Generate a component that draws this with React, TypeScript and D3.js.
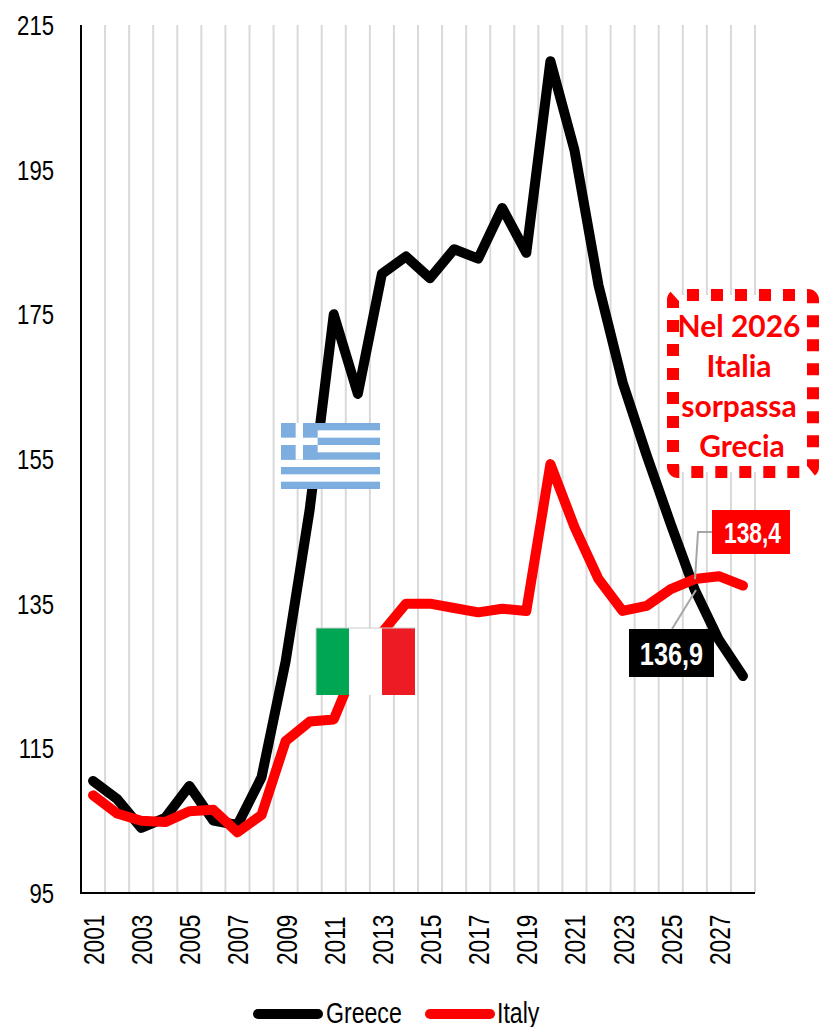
import React from 'react';
import * as d3 from 'd3';

const years = d3.range(2001, 2029).map(String);
const greece = [110.5, 108, 104, 105.4, 109.8, 105, 104.4, 111, 127, 148, 175, 164, 180.6, 183, 180, 184, 182.7, 189.7, 183.5, 210, 197.7, 179, 165.6, 155.5, 146, 136.9, 130, 125];
const italy = [108.5, 106, 105, 104.8, 106.3, 106.5, 103.4, 105.8, 116, 118.7, 119, 127, 131, 135, 135, 134.4, 133.8, 134.3, 134, 154.3, 145.6, 138.4, 134, 134.7, 137, 138.4, 138.8, 137.5];
const yTicks = [95, 115, 135, 155, 175, 195, 215];
const xLabels = years.filter((_, i) => i % 2 === 0);
const calloutLines = ['Nel 2026', 'Italia', 'sorpassa', 'Grecia'];

const width = 822;
const height = 1027;
const sans = '"Liberation Sans", sans-serif';
const callout = 'Lato, "Open Sans", sans-serif';

const x = d3.scaleBand<string>().domain(years).range([81, 755]);
const y = d3.scaleLinear().domain([95, 215]).range([893, 25]);
const px = (yr: string) => x(yr)! + x.bandwidth() / 2;

const line = d3
  .line<number>()
  .x((_, i) => px(years[i]))
  .y((d) => y(d));

// no narrow font installed, so squeeze Liberation Sans horizontally
const Narrow = ({
  tx,
  ty,
  sx = 0.79,
  size = 28,
  anchor = 'start',
  rotate = 0,
  bold = false,
  fill = '#000',
  children,
}: {
  tx: number;
  ty: number;
  sx?: number;
  size?: number;
  anchor?: string;
  rotate?: number;
  bold?: boolean;
  fill?: string;
  children: React.ReactNode;
}) => (
  <text
    transform={`translate(${tx},${ty}) rotate(${rotate}) scale(${sx},1)`}
    textAnchor={anchor}
    fontFamily={sans}
    fontSize={size}
    fontWeight={bold ? 'bold' : 'normal'}
    fill={fill}
  >
    {children}
  </text>
);

const GreekFlag = ({fx, fy}: {fx: number; fy: number}) => {
  const w = 99;
  const h = 66;
  const s = h / 9;
  return (
    <g>
      <rect x={fx} y={fy} width={w} height={h} fill='#fff' />
      {d3.range(0, 9, 2).map((i) => (
        <rect key={i} x={fx} y={fy + i * s} width={w} height={s} fill='#7DAEDF' />
      ))}
      <rect x={fx} y={fy} width={s * 5} height={s * 5} fill='#7DAEDF' />
      <rect x={fx} y={fy + s * 2} width={s * 5} height={s} fill='#fff' />
      <rect x={fx + s * 2} y={fy} width={s} height={s * 5} fill='#fff' />
    </g>
  );
};

const ItalianFlag = ({fx, fy}: {fx: number; fy: number}) => (
  <g>
    <rect x={fx} y={fy} width={99} height={67} fill='#fff' />
    <rect x={fx} y={fy} width={33} height={67} fill='#00A651' />
    <rect x={fx + 66} y={fy} width={33} height={67} fill='#ED1C24' />
    <path d={`M${fx},${fy + 67}V${fy}H${fx + 99}`} fill='none' stroke='#ccc' strokeWidth={1} />
  </g>
);

export default function App() {
  return (
    <svg
      width={width}
      height={height}
      style={{position: 'absolute', left: 0, top: 0, background: '#fff'}}
    >
      {/* gridlines at the band edges */}
      {years.slice(1).map((yr) => (
        <line key={yr} x1={x(yr)} x2={x(yr)} y1={25} y2={893} stroke='#D9D9D9' strokeWidth={2} />
      ))}
      <line x1={755} x2={755} y1={25} y2={893} stroke='#D9D9D9' strokeWidth={2} />

      <line x1={81} x2={81} y1={25} y2={894} stroke='#000' strokeWidth={2} />
      <line x1={80} x2={755} y1={893} y2={893} stroke='#000' strokeWidth={2} />

      {yTicks.map((t) => (
        <Narrow key={t} tx={54} ty={y(t) + 10} anchor='end'>
          {t}
        </Narrow>
      ))}
      {xLabels.map((yr) => (
        <Narrow key={yr} tx={px(yr) + 11} ty={965} rotate={-90} sx={0.78} size={29}>
          {yr}
        </Narrow>
      ))}

      <path d={line(greece)!} fill='none' stroke='#000' strokeWidth={10} strokeLinecap='round' strokeLinejoin='round' />
      <path d={line(italy)!} fill='none' stroke='#f00' strokeWidth={10} strokeLinecap='round' strokeLinejoin='round' />

      <GreekFlag fx={281} fy={423} />
      <ItalianFlag fx={316} fy={628} />

      {/* leader lines */}
      <polyline points={`696,${y(136.9)} 672,629`} fill='none' stroke='#A6A6A6' strokeWidth={2} />
      <polyline points={`695,${y(138.4)} 698,532 712,532`} fill='none' stroke='#A6A6A6' strokeWidth={2} />

      <rect x={712} y={510} width={78} height={44} fill='#f00' />
      <Narrow tx={752.5} ty={543} anchor='middle' sx={0.76} size={30} bold fill='#fff'>
        138,4
      </Narrow>
      <rect x={629} y={629} width={85} height={48} fill='#000' />
      <Narrow tx={671.5} ty={664.5} anchor='middle' sx={0.79} size={32} bold fill='#fff'>
        136,9
      </Narrow>

      <rect x={673} y={295} width={140} height={177} rx={5} fill='#fff' stroke='#f00' strokeWidth={12} strokeDasharray='12 12' strokeDashoffset={15} />
      {calloutLines.map((l, i) => (
        <text key={l} x={i === 3 ? 742 : 739} y={337 + i * 40} textAnchor='middle' fontFamily={callout} fontWeight='bold' fontSize={30} fill='#f00'>
          {l}
        </text>
      ))}

      {/* legend */}
      <line x1={258} x2={318} y1={1014} y2={1014} stroke='#000' strokeWidth={10} strokeLinecap='round' />
      <Narrow tx={326} ty={1023} sx={0.77} size={30}>Greece</Narrow>
      <line x1={430} x2={490} y1={1014} y2={1014} stroke='#f00' strokeWidth={10} strokeLinecap='round' />
      <Narrow tx={497} ty={1023} sx={0.77} size={30}>Italy</Narrow>
    </svg>
  );
}
